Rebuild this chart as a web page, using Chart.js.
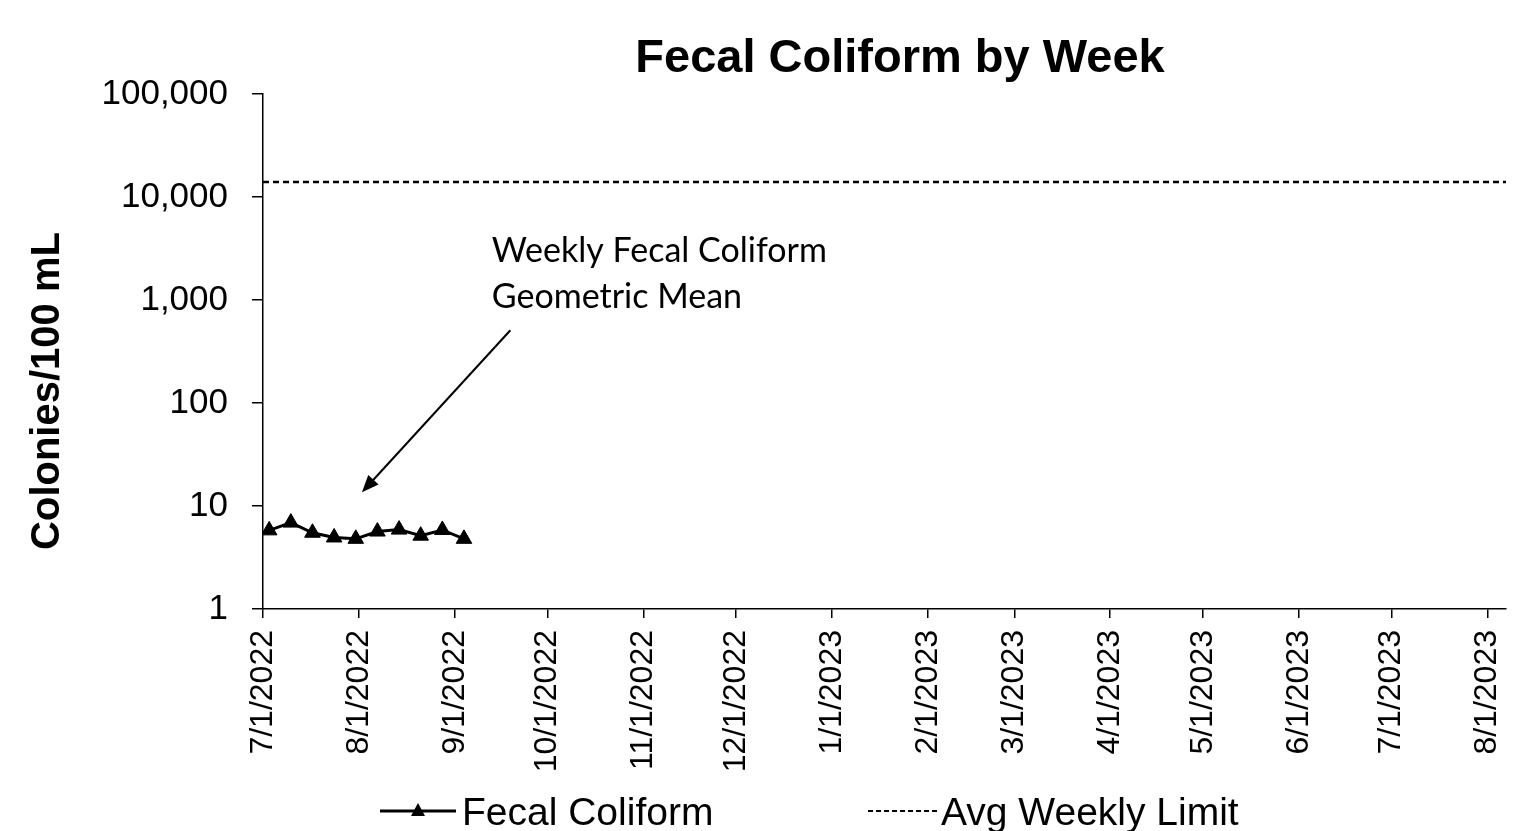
<!DOCTYPE html>
<html>
<head>
<meta charset="utf-8">
<script src="https://cdn.jsdelivr.net/npm/chart.js@4.4.0/dist/chart.umd.min.js"></script>
<style>
  html, body { margin: 0; padding: 0; background: #fff; }
  canvas { display: block; }
</style>
</head>
<body>
<canvas id="chart-fecal" width="1518" height="831"></canvas>
<script>
// ─── Data ────────────────────────────────────────────────────────────────────
const sampleDates = ['2022-07-03', '2022-07-10', '2022-07-17', '2022-07-24', '2022-07-31',
                     '2022-08-07', '2022-08-14', '2022-08-21', '2022-08-28', '2022-09-04'];
const fecalValues = [5.8, 6.9, 5.5, 4.95, 4.8, 5.65, 5.9, 5.15, 5.85, 4.8];

const limitDates = ['2022-07-01', '2023-08-07'];
const limitValues = [14000, 14000];

const monthTicks = ['2022-07-01', '2022-08-01', '2022-09-01', '2022-10-01', '2022-11-01',
                    '2022-12-01', '2023-01-01', '2023-02-01', '2023-03-01', '2023-04-01',
                    '2023-05-01', '2023-06-01', '2023-07-01', '2023-08-01'];
const yTicks = [1, 10, 100, 1000, 10000, 100000];

const X_MIN = '2022-07-01';
const X_MAX = '2023-08-07';

// annotation anchor points (data space)
const noteText = ['Weekly Fecal Coliform', 'Geometric Mean'];
const noteAt = { date: '2022-09-13', value: 2330 };
const arrowFrom = { date: '2022-09-19', value: 508 };
const arrowTo = { date: '2022-08-02', value: 13.6 };

const toMs = s => {
    const [y, m, d] = s.split('-').map(Number);
    return Date.UTC(y, m - 1, d);
};
const fmtDate = ms => {
    const d = new Date(ms);
    return `${d.getUTCMonth() + 1}/${d.getUTCDate()}/${d.getUTCFullYear()}`;
};

const ARIAL = "'Liberation Sans', Arial, sans-serif";

// ─── Extra drawing: title, y title, note + arrow, legend ─────────────────────
const decorations = {
    id: 'decorations',
    afterDraw(chart) {
        const { ctx, scales: { x, y } } = chart;
        ctx.save();
        ctx.fillStyle = '#000';
        ctx.strokeStyle = '#000';

        // title
        ctx.font = `bold 47px ${ARIAL}`;
        ctx.textAlign = 'center';
        ctx.textBaseline = 'alphabetic';
        ctx.fillText('Fecal Coliform by Week', 900, 72);

        // y axis title
        ctx.save();
        ctx.translate(59, 391);
        ctx.rotate(-Math.PI / 2);
        ctx.font = `bold 40px ${ARIAL}`;
        ctx.fillText('Colonies/100 mL', 0, 0);
        ctx.restore();

        // annotation
        ctx.font = "34px Lato, 'Open Sans', sans-serif";
        ctx.textAlign = 'left';
        const nx = x.getPixelForValue(toMs(noteAt.date));
        const ny = y.getPixelForValue(noteAt.value);
        noteText.forEach((t, i) => ctx.fillText(t, nx, ny + i * 46));

        const ax0 = x.getPixelForValue(toMs(arrowFrom.date)), ay0 = y.getPixelForValue(arrowFrom.value);
        const ax1 = x.getPixelForValue(toMs(arrowTo.date)), ay1 = y.getPixelForValue(arrowTo.value);
        const ang = Math.atan2(ay1 - ay0, ax1 - ax0);
        const headLen = 17, headW = 7;
        ctx.lineWidth = 2;
        ctx.beginPath();
        ctx.moveTo(ax0, ay0);
        ctx.lineTo(ax1 - Math.cos(ang) * headLen * 0.8, ay1 - Math.sin(ang) * headLen * 0.8);
        ctx.stroke();
        ctx.beginPath();
        ctx.moveTo(ax1, ay1);
        ctx.lineTo(ax1 - Math.cos(ang) * headLen - Math.sin(ang) * headW,
                   ay1 - Math.sin(ang) * headLen + Math.cos(ang) * headW);
        ctx.lineTo(ax1 - Math.cos(ang) * headLen + Math.sin(ang) * headW,
                   ay1 - Math.sin(ang) * headLen - Math.cos(ang) * headW);
        ctx.closePath();
        ctx.fill();

        // legend
        const ly = 811;
        ctx.lineWidth = 3;
        ctx.beginPath();
        ctx.moveTo(380, ly);
        ctx.lineTo(456, ly);
        ctx.stroke();
        ctx.beginPath();
        ctx.moveTo(418, ly - 8);
        ctx.lineTo(425, ly + 5);
        ctx.lineTo(411, ly + 5);
        ctx.closePath();
        ctx.fill();

        ctx.lineWidth = 2;
        ctx.setLineDash([5, 3]);
        ctx.beginPath();
        ctx.moveTo(868, ly);
        ctx.lineTo(937, ly);
        ctx.stroke();
        ctx.setLineDash([]);

        ctx.font = `39px ${ARIAL}`;
        ctx.textBaseline = 'alphabetic';
        ctx.fillText('Fecal Coliform', 462, 825);
        ctx.fillText('Avg Weekly Limit', 941, 825);

        ctx.restore();
    }
};

// ─── Chart ───────────────────────────────────────────────────────────────────
const ctx = document.getElementById('chart-fecal').getContext('2d');

new Chart(ctx, {
    type: 'line',
    data: {
        datasets: [{
            label: 'Fecal Coliform',
            data: sampleDates.map((d, i) => ({ x: toMs(d), y: fecalValues[i] })),
            borderColor: '#000',
            backgroundColor: '#000',
            borderWidth: 3,
            pointStyle: 'triangle',
            pointRadius: 9,
            pointBorderWidth: 1,
            tension: 0,
        }, {
            label: 'Avg Weekly Limit',
            data: limitDates.map((d, i) => ({ x: toMs(d), y: limitValues[i] })),
            borderColor: '#000',
            borderWidth: 2.5,
            borderDash: [6, 4],
            pointRadius: 0,
            tension: 0,
        }]
    },
    options: {
        responsive: false,
        animation: false,
        devicePixelRatio: 1,
        layout: { padding: { top: 94, right: 12, bottom: 0, left: 0 } },
        plugins: {
            legend: { display: false },
            title: { display: false },
            tooltip: { enabled: false },
        },
        scales: {
            x: {
                type: 'linear',
                min: toMs(X_MIN),
                max: toMs(X_MAX),
                afterBuildTicks: s => { s.ticks = monthTicks.map(d => ({ value: toMs(d) })); },
                afterFit: s => { s.height = 831 - 609; s.paddingLeft = 0; s.paddingRight = 0; },
                ticks: {
                    callback: v => fmtDate(v),
                    minRotation: 90,
                    maxRotation: 90,
                    autoSkip: false,
                    padding: 12,
                    color: '#000',
                    font: { family: ARIAL, size: 32 },
                },
                grid: { drawOnChartArea: false, drawTicks: true, tickLength: 9, color: '#000', lineWidth: 1.5 },
                border: { display: true, color: '#000', width: 1.5 },
            },
            y: {
                type: 'logarithmic',
                min: 1,
                max: 100000,
                afterBuildTicks: s => { s.ticks = yTicks.map(v => ({ value: v })); },
                afterFit: s => { s.width = 263; },
                ticks: {
                    callback: v => Number(v).toLocaleString('en-US'),
                    padding: 24,
                    color: '#000',
                    font: { family: ARIAL, size: 35 },
                },
                grid: { drawOnChartArea: false, drawTicks: true, tickLength: 11, color: '#000', lineWidth: 1.5 },
                border: { display: true, color: '#000', width: 1.5 },
            }
        }
    },
    plugins: [decorations]
});
</script>
</body>
</html>
